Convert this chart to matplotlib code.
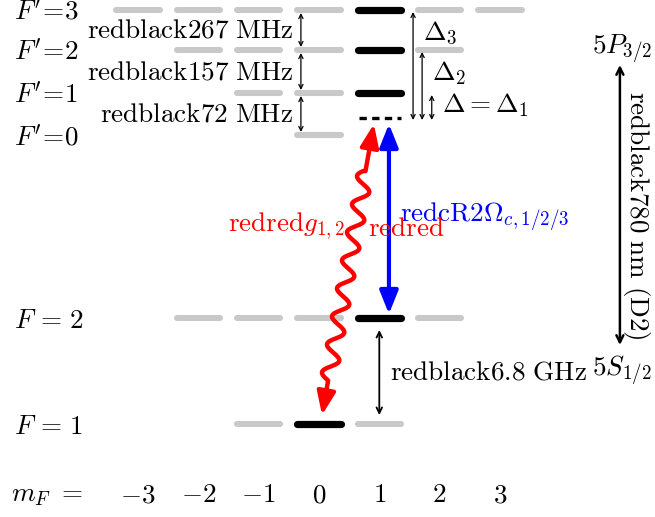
import matplotlib.pyplot as plt
import numpy as np

plt.rcParams['mathtext.fontset'] = 'cm'
plt.rcParams['font.family'] = 'serif'

fs = 19.5
gray = '#c9c9c9'

# hyperfine rows of the D2 line (height in diagram units, largest |m_F| drawn)
level_labels = [r"$F'\!=\!3$", r"$F'\!=\!2$", r"$F'\!=\!1$", r"$F'\!=\!0$", r"$F\,=\,2$", r"$F\,=\,1$"]
level_y = [507, 467, 424, 382, 199, 93]
level_fmax = [3, 2, 1, 0, 2, 1]
level_active = [1, 1, 1, None, 1, 0]   # populated / coupled sublevel

# excited-state splittings between neighbouring F' rows
split_labels = ["267", "157", "72"]

# detunings measured from the virtual level
virtual_y = 399
detune_labels = [r"$\Delta_3$", r"$\Delta_2$", r"$\Delta = \Delta_1$"]
detune_x = [1.56, 1.71, 1.87]

mf_values = [-3, -2, -1, 0, 1, 2, 3]
mf_y = 22

# column spacing in pixels, used for the wavy photon line
sx = 60.3
sy = 1.0

fig = plt.figure(figsize=(6.55, 5.17), dpi=100)
ax = fig.add_axes([0, 0, 1, 1])
ax.set_xlim(-319 / sx, (655 - 319) / sx)
ax.set_ylim(0, 517)
ax.axis('off')

half = 0.36
for lab, y, fmax, act in zip(level_labels, level_y, level_fmax, level_active):
    for m in range(-fmax, fmax + 1):
        if m == act:
            ax.plot([m - half, m + half], [y, y], color='black', lw=5.2,
                    solid_capstyle='round')
        else:
            ax.plot([m - half, m + half], [y, y], color=gray, lw=4.4,
                    solid_capstyle='round')
    ax.text(-5.05, y - 2, lab, fontsize=fs, ha='left', va='center')

# virtual level below F'=1
ax.plot([1 - half + 0.03, 1 + half], [virtual_y, virtual_y], color='black',
        lw=2.4, ls=(0, (2.2, 1.6)))

# hyperfine splittings
for i, s in enumerate(split_labels):
    y1 = level_y[i] - 3
    y2 = level_y[i + 1] + 3
    ax.annotate('', xy=(-0.30, y2), xytext=(-0.30, y1),
                arrowprops=dict(arrowstyle='<->,head_length=0.3,head_width=0.15',
                                lw=0.9, color='black', shrinkA=0, shrinkB=0))
    ax.text(-0.43, (level_y[i] + level_y[i + 1]) / 2,
            r"$\mathrm{redblack%s\ MHz}$" % s, fontsize=fs, ha='right', va='center')

# detunings
detune_text_pos = [(1.72, 484), (1.87, 444), (2.04, 412)]
for i, (lab, x) in enumerate(zip(detune_labels, detune_x)):
    ax.annotate('', xy=(x, virtual_y - 2), xytext=(x, level_y[i] - 2),
                arrowprops=dict(arrowstyle='<->,head_length=0.3,head_width=0.15',
                                lw=0.9, color='black', shrinkA=0, shrinkB=0))
    tx, ty = detune_text_pos[i]
    ax.text(tx, ty, lab, fontsize=fs, ha='left', va='center')

# coupling beam (blue)
ax.annotate('', xy=(1.16, 393), xytext=(1.16, 203),
            arrowprops=dict(arrowstyle='<|-|>,head_length=0.7,head_width=0.28',
                            mutation_scale=20, lw=3, color='blue',
                            shrinkA=0, shrinkB=0))
ax.text(1.34, 300, r"$\mathrm{redcR2}\Omega_{c,1/2/3}$", fontsize=fs,
        color='blue', ha='left', va='center')

# probe photon (red wavy line)
bot_tip = np.array([0.05, 102.0])
top_tip = np.array([0.91, 393.0])
p0 = np.array([bot_tip[0] * sx, bot_tip[1] * sy])
p1 = np.array([top_tip[0] * sx, top_tip[1] * sy])
d = p1 - p0
length = np.hypot(*d)
u = d / length
nrm = np.array([-u[1], u[0]])
head = 18
t = np.linspace(head, length - head, 800)
w0, w1 = 35, length - 48
amp = np.where((t > w0) & (t < w1), 7.5, 0.0)
phase = 2 * np.pi * (t - w0) / 28.5
off = amp * np.sin(phase)
pts = p0[None, :] + t[:, None] * u[None, :] + off[:, None] * nrm[None, :]
ax.plot(pts[:, 0] / sx, pts[:, 1] / sy, color='red', lw=3.2,
        solid_capstyle='butt', solid_joinstyle='round')
for tip, base_t in [(p0, head + 2), (p1, length - head - 2)]:
    base = p0 + base_t * u
    ax.annotate('', xy=(tip[0] / sx, tip[1] / sy), xytext=(base[0] / sx, base[1] / sy),
                arrowprops=dict(arrowstyle='-|>,head_length=0.7,head_width=0.28',
                                mutation_scale=20, lw=3, color='red',
                                shrinkA=0, shrinkB=0))
ax.text(0.43, 291, r"$\mathrm{redred}g_{1,2}$", fontsize=fs, color='red',
        ha='right', va='center')
ax.text(0.81, 289, r"$\mathrm{redred}$", fontsize=fs, color='red',
        ha='left', va='center')

# ground-state splitting
ax.annotate('', xy=(1.0, 102), xytext=(1.0, 187),
            arrowprops=dict(arrowstyle='<->,head_length=0.4,head_width=0.2',
                            lw=1.3, color='black', shrinkA=0, shrinkB=0))
ax.text(1.18, 145, r"$\mathrm{redblack6.8\ GHz}$", fontsize=fs,
        ha='left', va='center')

# D2 line
ax.annotate('', xy=(4.99, 452), xytext=(4.99, 172),
            arrowprops=dict(arrowstyle='<->,head_length=0.5,head_width=0.25',
                            lw=1.8, color='black', shrinkA=0, shrinkB=0))
ax.text(5.02, 468, r"$5P_{3/2}$", fontsize=fs, ha='center', va='center')
ax.text(5.02, 147, r"$5S_{1/2}$", fontsize=fs, ha='center', va='center')
ax.text(5.27, 302, r"$\mathrm{redblack780\ nm\ (D2)}$", fontsize=fs,
        rotation=-90, ha='center', va='center')

# m_F axis
ax.text(-5.1, mf_y, r"$m_F\ =$", fontsize=fs, ha='left', va='center')
for m in mf_values:
    ax.text(m, mf_y, r"$%d$" % m, fontsize=fs, ha='center', va='center')

fig.savefig('out.png', dpi=100)
